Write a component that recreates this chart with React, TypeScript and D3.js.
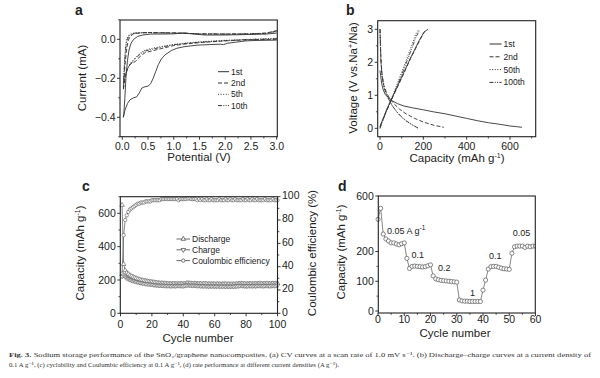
import React from 'react';
import * as d3 from 'd3';

// ---------- Panel a: CV curves ----------
const aXTicks = [0, 0.5, 1, 1.5, 2, 2.5, 3];
const aXMinor = [0.25, 0.75, 1.25, 1.75, 2.25, 2.75];
const aYTicks = [-0.4, -0.2, 0];
const aYMinor = [-0.5, -0.3, -0.1, 0.1];
const cvLabels = ['1st', '2nd', '5th', '10th'];
const cv1V = [3.0, 2.6, 2.4, 2.2, 2.05, 1.97, 1.9, 1.7, 1.45, 1.2, 1.06, 0.95, 0.83, 0.76, 0.7, 0.65, 0.6, 0.55, 0.5, 0.42, 0.38, 0.33, 0.28, 0.22, 0.15, 0.1, 0.05, 0.02, 0.03, 0.05, 0.07, 0.1, 0.13, 0.17, 0.22, 0.3, 0.4, 0.55, 0.8, 1.0, 1.2, 1.4, 1.6, 2.0, 2.5, 2.8, 3.0];
const cv1I = [-0.004, -0.006, -0.008, -0.015, -0.02, -0.027, -0.025, -0.027, -0.03, -0.038, -0.046, -0.058, -0.08, -0.1, -0.13, -0.165, -0.2, -0.228, -0.24, -0.245, -0.25, -0.275, -0.295, -0.3, -0.31, -0.33, -0.365, -0.4, -0.38, -0.3, -0.2, -0.11, -0.055, -0.02, 0.0, 0.015, 0.022, 0.027, 0.027, 0.028, 0.033, 0.027, 0.022, 0.022, 0.025, 0.027, 0.032];
const cv2V = [3.0, 2.5, 2.0, 1.5, 1.2, 1.0, 0.8, 0.6, 0.45, 0.38, 0.3, 0.25, 0.2, 0.15, 0.1, 0.06, 0.03, 0.02, 0.03, 0.05, 0.08, 0.11, 0.15, 0.22, 0.35, 0.5, 1.0, 1.5, 2.0, 2.5, 2.8, 3.0];
const cv2I = [0.0, -0.002, -0.008, -0.017, -0.025, -0.032, -0.045, -0.058, -0.068, -0.08, -0.1, -0.115, -0.12, -0.13, -0.15, -0.19, -0.24, -0.26, -0.22, -0.14, -0.06, -0.01, 0.015, 0.028, 0.033, 0.035, 0.033, 0.028, 0.027, 0.028, 0.032, 0.045];
const cv5V = [3.0, 2.5, 2.0, 1.5, 1.2, 1.0, 0.8, 0.6, 0.45, 0.35, 0.3, 0.25, 0.2, 0.15, 0.1, 0.06, 0.03, 0.02, 0.03, 0.04, 0.06, 0.08, 0.12, 0.18, 0.3, 0.5, 1.0, 1.5, 2.0, 2.5, 2.8, 3.0];
const cv5I = [0.005, 0.0, -0.005, -0.013, -0.02, -0.026, -0.035, -0.045, -0.055, -0.07, -0.082, -0.095, -0.11, -0.125, -0.15, -0.18, -0.23, -0.25, -0.2, -0.12, -0.05, 0.0, 0.02, 0.03, 0.033, 0.034, 0.032, 0.027, 0.026, 0.027, 0.03, 0.04];
const cv10V = [3.0, 2.5, 2.0, 1.5, 1.2, 1.0, 0.8, 0.6, 0.45, 0.35, 0.3, 0.25, 0.2, 0.15, 0.1, 0.06, 0.03, 0.02, 0.03, 0.045, 0.065, 0.09, 0.13, 0.2, 0.3, 0.5, 1.0, 1.5, 2.0, 2.5, 2.8, 3.0];
const cv10I = [0.003, -0.001, -0.007, -0.015, -0.022, -0.028, -0.038, -0.05, -0.06, -0.075, -0.088, -0.1, -0.115, -0.13, -0.155, -0.18, -0.215, -0.23, -0.19, -0.12, -0.05, -0.005, 0.018, 0.03, 0.033, 0.034, 0.032, 0.028, 0.027, 0.028, 0.031, 0.042];

// ---------- Panel b: discharge-charge ----------
const bXTicks = [0, 200, 400, 600];
const bXMinor = [100, 300, 500, 700];
const bYTicks = [0, 1, 2, 3];
const bYMinor = [0.5, 1.5, 2.5];
const bLabels = ['1st', '2nd', '50th', '100th'];
const b1DisCap = [0, 3, 8, 15, 25, 40, 60, 80, 108, 150, 200, 246, 300, 350, 400, 450, 500, 554, 600, 630, 655];
const b1DisV = [1.75, 1.6, 1.35, 1.16, 1.02, 0.92, 0.82, 0.75, 0.68, 0.62, 0.56, 0.5, 0.44, 0.37, 0.3, 0.23, 0.17, 0.12, 0.07, 0.05, 0.03];
const b1ChCap = [0, 10, 30, 60, 100, 140, 180, 200, 210, 222];
const b1ChV = [0.05, 0.22, 0.55, 0.98, 1.55, 2.12, 2.65, 2.88, 2.95, 3.0];
const b2DisCap = [0, 2, 5, 10, 18, 30, 45, 65, 90, 120, 160, 200, 250, 295];
const b2DisV = [3.0, 2.5, 2.0, 1.6, 1.3, 1.08, 0.9, 0.74, 0.58, 0.44, 0.3, 0.19, 0.09, 0.03];
const b2ChCap = [0, 10, 30, 60, 100, 140, 180, 205, 215];
const b2ChV = [0.05, 0.2, 0.53, 0.96, 1.52, 2.1, 2.62, 2.93, 3.0];
const b50DisCap = [0, 2, 5, 10, 18, 30, 45, 60, 80, 100, 125, 150, 175];
const b50DisV = [3.0, 2.4, 1.9, 1.55, 1.25, 1.02, 0.82, 0.65, 0.47, 0.33, 0.2, 0.1, 0.01];
const b50ChCap = [0, 10, 30, 60, 100, 140, 165, 178];
const b50ChV = [0.0, 0.2, 0.55, 1.02, 1.7, 2.4, 2.85, 3.0];
const b100DisCap = [0, 2, 4, 8, 15, 25, 40, 55, 75, 95, 120, 150, 175];
const b100DisV = [3.0, 2.6, 2.1, 1.7, 1.35, 1.1, 0.88, 0.7, 0.52, 0.38, 0.23, 0.1, 0.01];
const b100ChCap = [0, 10, 30, 60, 100, 140, 165, 182];
const b100ChV = [0.0, 0.19, 0.52, 0.98, 1.62, 2.3, 2.75, 2.97];

// ---------- Panel c: cycling ----------
const cXTicks = [0, 20, 40, 60, 80, 100];
const cXMinor = [10, 30, 50, 70, 90];
const cYTicks = [0, 200, 400, 600];
const cYMinor = [100, 300, 500, 700];
const cY2Ticks = [0, 20, 40, 60, 80, 100];
const cY2Minor = [10, 30, 50, 70, 90];
const cLegend = ['Discharge', 'Charge', 'Coulombic efficiency'];
const cDischarge = [650, 295, 258, 243, 235, 228, 222, 218, 214, 210,
  206, 203, 200, 198, 196, 194, 192, 190, 189, 188,
  186, 185, 183, 182, 181, 180, 180, 179, 179, 178,
  178, 177, 177, 178, 176, 177, 176, 178, 177, 176,
  178, 180, 181, 180, 179, 178, 179, 178, 177, 178,
  177, 176, 177, 178, 176, 175, 176, 175, 176, 175,
  175, 176, 175, 174, 175, 176, 175, 174, 175, 174,
  175, 174, 175, 176, 177, 178, 179, 178, 177, 176,
  177, 178, 177, 176, 177, 178, 177, 178, 179, 178,
  177, 178, 179, 178, 177, 178, 179, 178, 179, 180];
const cCharge = [222, 228, 220, 212, 207, 203, 199, 196, 193, 190,
  188, 186, 184, 182, 180, 178, 177, 176, 175, 174,
  172, 171, 170, 169, 168, 168, 167, 167, 166, 166,
  166, 165, 166, 166, 165, 166, 167, 166, 166, 165,
  167, 169, 170, 169, 168, 167, 168, 167, 166, 166,
  165, 165, 164, 165, 164, 163, 164, 163, 164, 163,
  163, 164, 163, 162, 163, 163, 162, 163, 162, 162,
  163, 162, 163, 164, 165, 166, 167, 166, 165, 164,
  165, 166, 165, 165, 166, 165, 166, 167, 166, 166,
  165, 166, 167, 166, 165, 166, 167, 166, 167, 167];
const cEfficiency = [34, 67, 80, 84, 87, 89, 90, 91, 92, 93,
  94, 94, 95, 95, 95, 96, 96, 96, 96, 97,
  97, 97, 97, 97, 97, 98, 98, 98, 98, 98,
  98, 98, 98, 98, 98, 98, 97, 98, 98, 98,
  98, 98, 98.5, 98.5, 98, 98, 98, 98, 97, 98,
  97, 98, 97, 97, 98, 97, 97, 98, 97, 97,
  97, 97, 98, 97, 97, 97, 98, 97, 97, 98,
  97, 97, 98, 97, 97, 97, 97, 98, 97, 97,
  98, 97, 97, 98, 97, 97, 98, 97, 97, 97,
  97, 98, 97, 97, 97, 97, 98, 97, 97, 97];

// ---------- Panel d: rate ----------
const dXTicks = [0, 10, 20, 30, 40, 50, 60];
const dXMinor = [5, 15, 25, 35, 45, 55];
const dYTicks = [0, 100, 200, 600];
const dYMinor = [50, 150];
const dCapacity = [432, 511, 326, 290, 276, 262, 262, 254, 248, 256, 262,
  177, 143, 150, 151, 150, 149, 148, 149, 152, 155,
  118, 108, 105, 103, 102, 101, 100, 99, 98, 97,
  37, 34, 33, 33, 32, 32, 32, 32, 32, 70,
  104, 141, 149, 150, 150, 147, 144, 142, 141, 140,
  194, 234, 239, 239, 239, 230, 239, 234, 239, 239];
const dRateLabels = ['0.05', '0.1', '0.2', '1', '0.1', '0.05'];
const dRateCycle = [3.4, 12.8, 22.9, 35, 42.3, 51.3];
const dRateValue = [329, 177, 135, 51, 174, 311];

const FONT = 'Liberation Sans, Arial, Helvetica, sans-serif';
const INK = '#222';
const LINE = '#333';

type Scale = (v: number) => number;

function Box({ x0, x1, y0, y1 }: { x0: number; x1: number; y0: number; y1: number }) {
  return <rect x={x0} y={y0} width={x1 - x0} height={y1 - y0} fill="none" stroke={INK} strokeWidth={1.1} />;
}

function XAxis({ s, y, ticks, minor, fmt, labelY }: { s: Scale; y: number; ticks: number[]; minor: number[]; fmt: (v: number) => string; labelY: number }) {
  return (
    <g>
      {minor.map((t, i) => <line key={'m' + i} x1={s(t)} x2={s(t)} y1={y} y2={y + 1.8} stroke={INK} strokeWidth={0.8} />)}
      {ticks.map((t, i) => (
        <g key={i}>
          <line x1={s(t)} x2={s(t)} y1={y} y2={y + 3} stroke={INK} strokeWidth={0.9} />
          <text x={s(t)} y={labelY} textAnchor="middle" fontSize={10.5} fill={INK}>{fmt(t)}</text>
        </g>
      ))}
    </g>
  );
}

function YAxis({ s, x, ticks, minor, fmt, side, dyLabel = 3.7 }: { s: Scale; x: number; ticks: number[]; minor: number[]; fmt: (v: number) => string; side: 'left' | 'right'; dyLabel?: number }) {
  const dir = side === 'left' ? -1 : 1;
  return (
    <g>
      {minor.map((t, i) => <line key={'m' + i} x1={x} x2={x + dir * 1.8} y1={s(t)} y2={s(t)} stroke={INK} strokeWidth={0.8} />)}
      {ticks.map((t, i) => (
        <g key={i}>
          <line x1={x} x2={x + dir * 3} y1={s(t)} y2={s(t)} stroke={INK} strokeWidth={0.9} />
          <text x={x + dir * 4.5} y={s(t) + dyLabel} textAnchor={side === 'left' ? 'end' : 'start'} fontSize={10.5} fill={INK}>{fmt(t)}</text>
        </g>
      ))}
    </g>
  );
}

const DASHES = ['none', '4,2', '1,1.6', '4,1.3,1,1.3,1,1.3'];

function Sup({ children }: { children: React.ReactNode }) {
  return <tspan dy={-4} fontSize={7}>{children}</tspan>;
}

export default function App() {
  // Panel a scales
  const ax = d3.scaleLinear().domain([0, 3]).range([122.3, 276.7]);
  const ay = d3.scaleLinear().domain([-0.4, 0]).range([117.3, 39.3]);
  const aBox = { x0: 120, x1: 277.3, y0: 20, y1: 136.7 };
  const cvSeries = [[cv1V, cv1I], [cv2V, cv2I], [cv5V, cv5I], [cv10V, cv10I]];

  // Panel b scales
  const bx = d3.scaleLinear().domain([0, 600]).range([380, 510]);
  const by = d3.scaleLinear().domain([0, 3]).range([128.3, 29.3]);
  const bBox = { x0: 377.7, x1: 535.7, y0: 20.7, y1: 136.7 };
  const bSeries = [
    [[b1DisCap, b1DisV], [b1ChCap, b1ChV]],
    [[b2DisCap, b2DisV], [b2ChCap, b2ChV]],
    [[b50DisCap, b50DisV], [b50ChCap, b50ChV]],
    [[b100DisCap, b100DisV], [b100ChCap, b100ChV]],
  ];

  // Panel c scales
  const cx = d3.scaleLinear().domain([0, 100]).range([120.5, 277.5]);
  const cy = d3.scaleLinear().domain([0, 700]).range([313.3, 196.7]);
  const cy2 = d3.scaleLinear().domain([0, 100]).range([313.3, 196.7]);
  const cBox = { x0: 120.3, x1: 277.5, y0: 196.7, y1: 313.3 };
  const cycles = cDischarge.map((_, i) => i + 1);
  const tri = d3.symbol().type(d3.symbolTriangle).size(9)() || '';

  // Panel d scales (broken y axis: 0-200 expanded, 200-600 compressed)
  const dx = d3.scaleLinear().domain([0, 60]).range([378, 535.5]);
  const dy = d3.scaleLinear().domain([0, 200, 600]).range([311, 251.5, 196]);
  const dBox = { x0: 378.3, x1: 535.3, y0: 196, y1: 313 };
  const dCycles = dCapacity.map((_, i) => i);

  const lin = (xs: number[], ys: number[], sx: Scale, sy: Scale) =>
    d3.line<number>().x((_, i) => sx(xs[i])).y(v => sy(v))(ys) || '';

  return (
    <svg width={600} height={378} style={{ position: 'absolute', left: 0, top: 0, background: '#fff' }} fontFamily={FONT}>
      <rect x={0} y={0} width={600} height={378} fill="#fff" />
      <defs>
        <clipPath id="clipA"><rect x={aBox.x0} y={aBox.y0} width={aBox.x1 - aBox.x0} height={aBox.y1 - aBox.y0} /></clipPath>
        <clipPath id="clipB"><rect x={bBox.x0} y={bBox.y0} width={bBox.x1 - bBox.x0} height={bBox.y1 - bBox.y0} /></clipPath>
        <clipPath id="clipD"><rect x={dBox.x0 - 3} y={dBox.y0} width={dBox.x1 - dBox.x0 + 3} height={dBox.y1 - dBox.y0} /></clipPath>
      </defs>

      {/* ---------- a ---------- */}
      <text x={75} y={15} fontSize={14} fontWeight="bold" fill={INK}>a</text>
      <g clipPath="url(#clipA)">
        {cvSeries.map((s, i) => (
          <path key={i} d={lin(s[0], s[1], ax, ay)} fill="none" stroke={LINE} strokeWidth={0.9} strokeDasharray={DASHES[i]} />
        ))}
      </g>
      <Box {...aBox} />
      <XAxis s={ax} y={aBox.y1} ticks={aXTicks} minor={aXMinor} fmt={d3.format('.1f')} labelY={149.5} />
      <YAxis s={ay} x={aBox.x0} ticks={aYTicks} minor={aYMinor} fmt={d3.format('.1f')} side="left" />
      <text x={199} y={161} textAnchor="middle" fontSize={11.5} fill={INK}>Potential (V)</text>
      <text transform="translate(86,78) rotate(-90)" textAnchor="middle" fontSize={11.5} fill={INK}>Current (mA)</text>
      {cvLabels.map((l, i) => (
        <g key={i}>
          <line x1={218} x2={229} y1={71.7 + i * 11.3} y2={71.7 + i * 11.3} stroke={LINE} strokeWidth={1} strokeDasharray={DASHES[i]} />
          <text x={231} y={71.7 + i * 11.3 + 3} fontSize={8.5} fill={INK}>{l}</text>
        </g>
      ))}

      {/* ---------- b ---------- */}
      <text x={346} y={15} fontSize={14} fontWeight="bold" fill={INK}>b</text>
      <g clipPath="url(#clipB)">
        {bSeries.map((pair, i) => pair.map((s, j) => (
          <path key={i + '-' + j} d={lin(s[0], s[1], bx, by)} fill="none" stroke={LINE} strokeWidth={0.9} strokeDasharray={DASHES[i]} />
        )))}
      </g>
      <Box {...bBox} />
      <XAxis s={bx} y={bBox.y1} ticks={bXTicks} minor={bXMinor} fmt={d3.format('d')} labelY={150} />
      <YAxis s={by} x={bBox.x0} ticks={bYTicks} minor={bYMinor} fmt={d3.format('d')} side="left" />
      <text x={457} y={162} textAnchor="middle" fontSize={11.5} fill={INK}>Capacity (mAh g<Sup>-1</Sup><tspan dy={4}>)</tspan></text>
      <text transform="translate(357,78) rotate(-90)" textAnchor="middle" fontSize={11.5} fill={INK}>Voltage (V vs.Na<Sup>+</Sup><tspan dy={4}>/Na)</tspan></text>
      {bLabels.map((l, i) => (
        <g key={i}>
          <line x1={489.5} x2={501.5} y1={44 + i * 12.8} y2={44 + i * 12.8} stroke={LINE} strokeWidth={1} strokeDasharray={DASHES[i]} />
          <text x={503.5} y={44 + i * 12.8 + 3} fontSize={8.5} fill={INK}>{l}</text>
        </g>
      ))}

      {/* ---------- c ---------- */}
      <text x={82} y={191} fontSize={14} fontWeight="bold" fill={INK}>c</text>
      <path d={lin(cycles, cDischarge, cx, cy)} fill="none" stroke="#555" strokeWidth={0.7} />
      <path d={lin(cycles, cCharge, cx, cy)} fill="none" stroke="#555" strokeWidth={0.7} />
      <path d={lin(cycles, cEfficiency, cx, cy2)} fill="none" stroke="#555" strokeWidth={0.7} />
      {cycles.map((c, i) => (
        <g key={i}>
          <path d={tri} transform={`translate(${cx(c)},${cy(cDischarge[i])})`} fill="#fff" stroke="#555" strokeWidth={0.6} />
          <path d={tri} transform={`translate(${cx(c)},${cy(cCharge[i])}) rotate(180)`} fill="#fff" stroke="#555" strokeWidth={0.6} />
          <circle cx={cx(c)} cy={cy2(cEfficiency[i])} r={1.7} fill="#fff" stroke="#555" strokeWidth={0.6} />
        </g>
      ))}
      <Box {...cBox} />
      <XAxis s={cx} y={cBox.y1} ticks={cXTicks} minor={cXMinor} fmt={d3.format('d')} labelY={327.5} />
      <YAxis s={cy} x={cBox.x0} ticks={cYTicks} minor={cYMinor} fmt={d3.format('d')} side="left" />
      <YAxis s={cy2} x={cBox.x1} ticks={cY2Ticks} minor={cY2Minor} fmt={d3.format('d')} side="right" dyLabel={2.2} />
      <text x={198} y={342} textAnchor="middle" fontSize={11.5} fill={INK}>Cycle number</text>
      <text transform="translate(84,253) rotate(-90)" textAnchor="middle" fontSize={11.5} fill={INK}>Capacity (mAh g<Sup>-1</Sup><tspan dy={4}>)</tspan></text>
      <text transform="translate(316,253) rotate(-90)" textAnchor="middle" fontSize={11.5} fill={INK}>Coulombic efficiency (%)</text>
      {cLegend.map((l, i) => {
        const yy = 239 + i * 10.8;
        return (
          <g key={i}>
            <line x1={176.5} x2={190} y1={yy} y2={yy} stroke="#444" strokeWidth={0.8} />
            {i === 2 ? <circle cx={183.3} cy={yy} r={1.7} fill="#fff" stroke="#444" strokeWidth={0.7} />
              : <path d={tri} transform={`translate(183.3,${yy}) rotate(${i === 1 ? 180 : 0})`} fill="#fff" stroke="#444" strokeWidth={0.7} />}
            <text x={192} y={yy + 3} fontSize={8.5} fill={INK}>{l}</text>
          </g>
        );
      })}

      {/* ---------- d ---------- */}
      <text x={338} y={191} fontSize={14} fontWeight="bold" fill={INK}>d</text>
      <g clipPath="url(#clipD)">
        <path d={lin(dCycles, dCapacity, dx, dy)} fill="none" stroke="#555" strokeWidth={0.7} />
        {dCycles.map((c, i) => (
          <circle key={i} cx={dx(c)} cy={dy(dCapacity[i])} r={2.1} fill="#fff" stroke="#555" strokeWidth={0.7} />
        ))}
      </g>
      <Box {...dBox} />
      <XAxis s={dx} y={dBox.y1} ticks={dXTicks} minor={dXMinor} fmt={d3.format('d')} labelY={322.5} />
      <YAxis s={dy} x={dBox.x0} ticks={dYTicks} minor={dYMinor} fmt={d3.format('d')} side="left" />
      <text x={455} y={337} textAnchor="middle" fontSize={11.5} fill={INK}>Cycle number</text>
      <text transform="translate(345,252) rotate(-90)" textAnchor="middle" fontSize={11.5} fill={INK}>Capacity (mAh g<Sup>-1</Sup><tspan dy={4}>)</tspan></text>
      {dRateLabels.map((l, i) => (
        <text key={i} x={dx(dRateCycle[i])} y={dy(dRateValue[i])} fontSize={9} fill={INK}>
          {l}{i === 0 ? <><tspan> A g</tspan><tspan dy={-3.5} fontSize={6.5}>-1</tspan></> : null}
        </text>
      ))}

      {/* ---------- caption ---------- */}
      <g fontFamily="Liberation Serif, DejaVu Serif, serif" fontSize={6.2} fill="#333">
        <text x={9} y={356.5} textLength={582} lengthAdjust="spacingAndGlyphs">
          <tspan fontWeight="bold">Fig. 3.</tspan> Sodium storage performance of the SnO₂/graphene nanocomposites. (a) CV curves at a scan rate of 1.0 mV s⁻¹. (b) Discharge–charge curves at a current density of
        </text>
        <text x={9} y={367} textLength={330} lengthAdjust="spacingAndGlyphs">
          0.1 A g⁻¹, (c) cyclability and Coulumbic efficiency at 0.1 A g⁻¹, (d) rate performance at different current densities (A g⁻¹).
        </text>
      </g>
    </svg>
  );
}
